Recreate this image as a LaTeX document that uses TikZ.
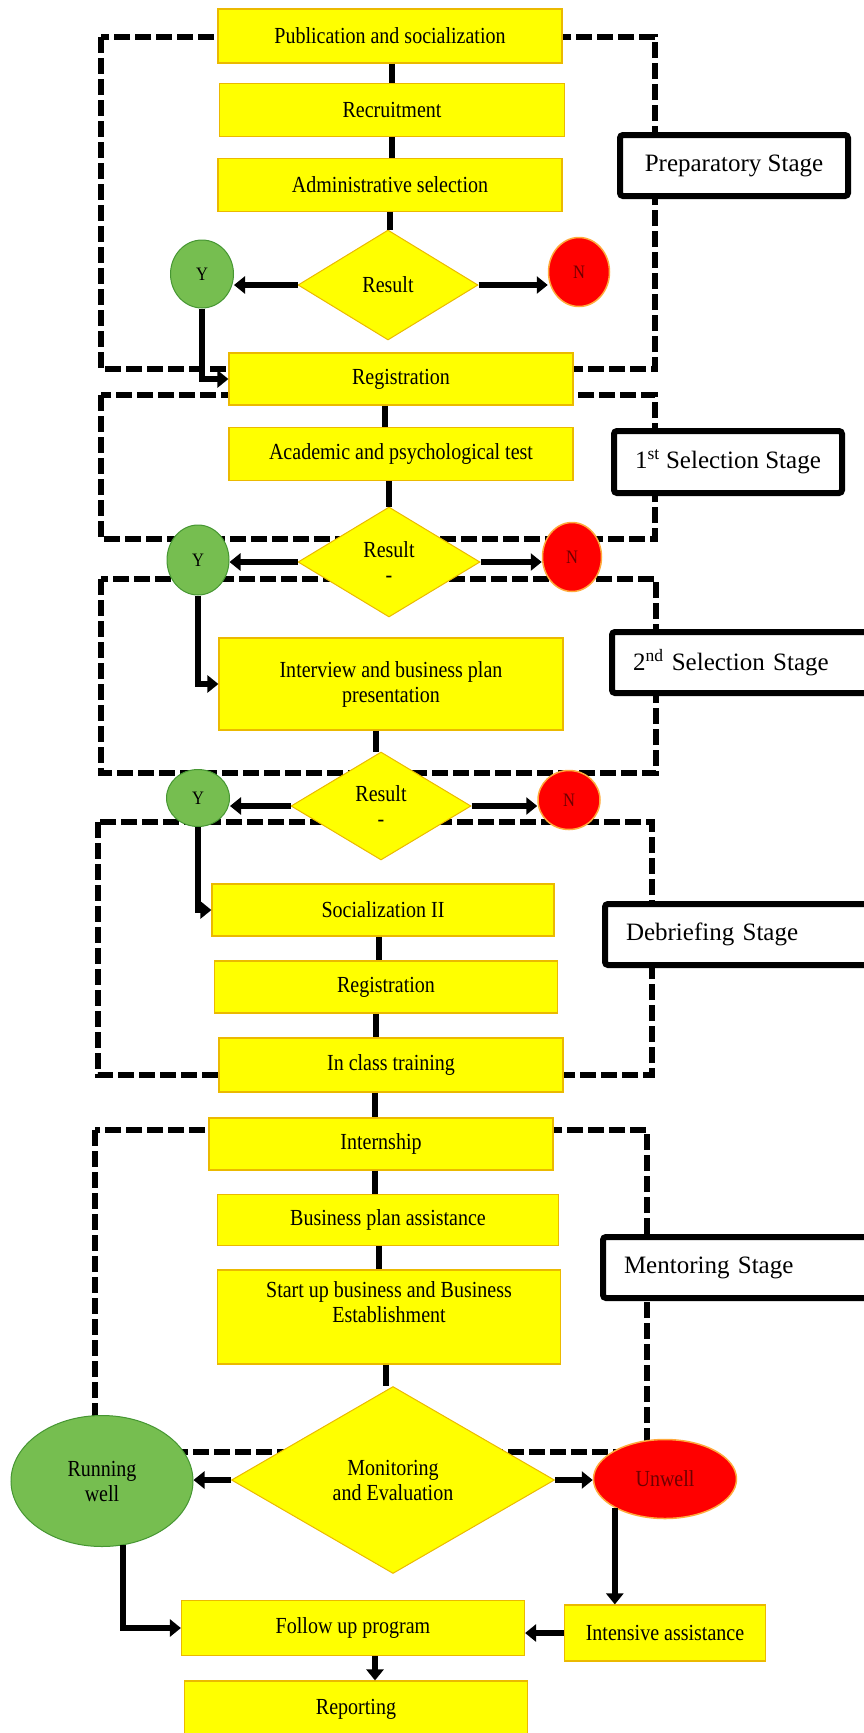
\documentclass[tikz,border=0pt]{standalone}
\usepackage{fontspec}
\setmainfont{Liberation Serif}
\newfontfamily\boxfont[FakeStretch=0.87]{Liberation Serif}
\usetikzlibrary{shapes.geometric,arrows.meta}
\definecolor{byel}{RGB}{255,255,0}
\definecolor{bedge}{RGB}{235,185,0}
\definecolor{gfill}{RGB}{118,190,80}
\definecolor{gedge}{RGB}{70,150,50}
\definecolor{rfill}{RGB}{255,0,0}
\definecolor{redge}{RGB}{255,170,60}
\definecolor{rtext}{RGB}{110,0,0}
\tikzset{
  box/.style={rectangle, draw=bedge, line width=1.2pt, fill=byel, inner sep=2pt, align=center, font=\boxfont\fontsize{23}{25}\selectfont},
  dia/.style={diamond, draw=bedge, line width=1pt, fill=byel, inner sep=0pt, align=center, font=\boxfont\fontsize{23}{25}\selectfont},
  yes/.style={ellipse, draw=gedge, line width=1pt, fill=gfill, inner sep=0pt, align=center, font=\boxfont\fontsize{19}{22}\selectfont},
  no/.style={ellipse, draw=redge, line width=1.5pt, fill=rfill, inner sep=0pt, align=center, text=rtext, font=\boxfont\fontsize{19}{22}\selectfont},
  dbox/.style={line width=6pt, dash pattern=on 16pt off 5pt},
  conn/.style={line width=6pt},
  arr/.style={line width=6pt, -{Triangle[length=11pt,width=17pt]}},
  stagec/.style={draw, line width=6pt, fill=white, rounded corners=3pt, anchor=north west, inner sep=0pt, font=\fontsize{25}{30}\selectfont},
  stagel/.style={draw, line width=6pt, fill=white, rounded corners=3pt, anchor=north west, inner xsep=21pt, inner ysep=0pt, align=left, text width=234pt, font=\fontsize{25}{30}\selectfont},
}
\begin{document}
\begin{tikzpicture}[x=1pt,y=-1pt]
\useasboundingbox (0,0) rectangle (864,1733);

% dashed stage frames
\draw[dbox] (101,37) rectangle (655,369);
\draw[dbox] (101,395) rectangle (655,539);
\draw[dbox] (101,579) rectangle (656,773);
\draw[dbox] (98,822) rectangle (652,1075);
\draw[dbox] (95,1130) rectangle (647,1452);

% nodes
\node[box, minimum width=344pt, minimum height=54pt] (pub) at (390,36) {Publication and socialization};
\node[box, minimum width=345pt, minimum height=53pt] (rec) at (392,110) {Recruitment};
\node[box, minimum width=344pt, minimum height=53pt] (adm) at (390,185) {Administrative selection};
\node[dia, minimum width=180pt, minimum height=110pt] (res1) at (388,285) {Result};
\node[yes, minimum width=63pt, minimum height=68pt] (y1) at (202,274) {Y};
\node[no, minimum width=61pt, minimum height=69pt] (n1) at (579,272) {N};
\node[box, minimum width=344pt, minimum height=52pt] (reg1) at (401,379) {Registration};
\node[box, minimum width=344pt, minimum height=53pt] (aca) at (401,454) {Academic and psychological test};
\node[dia, minimum width=182pt, minimum height=110pt] (res2) at (389,562) {Result\\-};
\node[yes, minimum width=62pt, minimum height=70pt] (y2) at (198,560) {Y};
\node[no, minimum width=59pt, minimum height=69pt] (n2) at (572,557) {N};
\node[box, minimum width=344pt, minimum height=92pt] (int) at (391,684) {Interview and business plan\\presentation};
\node[dia, minimum width=180pt, minimum height=108pt] (res3) at (381,806) {Result\\-};
\node[yes, minimum width=63pt, minimum height=57pt] (y3) at (198,798) {Y};
\node[no, minimum width=62pt, minimum height=59pt] (n3) at (569,800) {N};
\node[box, minimum width=342pt, minimum height=52pt] (soc) at (383,910) {Socialization II};
\node[box, minimum width=343pt, minimum height=52pt] (reg2) at (386,987) {Registration};
\node[box, minimum width=344pt, minimum height=54pt] (icl) at (391,1065) {In class training};
\node[box, minimum width=344pt, minimum height=52pt] (itn) at (381,1144) {Internship};
\node[box, minimum width=341pt, minimum height=51pt] (bpa) at (388,1220) {Business plan assistance};
\node[box, minimum width=343pt, minimum height=94pt, text depth=30pt] (sub) at (389,1317) {Start up business and Business\\Establishment};
\node[dia, minimum width=323pt, minimum height=187pt] (mon) at (393,1480) {Monitoring\\and Evaluation};
\node[yes, minimum width=182pt, minimum height=131pt, font=\boxfont\fontsize{23}{25}\selectfont] (rw) at (102,1481) {Running\\well};
\node[no, minimum width=143pt, minimum height=79pt, font=\boxfont\fontsize{23}{25}\selectfont] (uw) at (665,1479) {Unwell};
\node[box, minimum width=343pt, minimum height=55pt] (fu) at (353,1628) {Follow up program};
\node[box, minimum width=201pt, minimum height=56pt] (ia) at (665,1633) {Intensive assistance};
\node[box, minimum width=343pt, minimum height=56pt] (rep) at (356,1709) {Reporting};

% connectors
\draw[conn] ([xshift=2pt]pub.south) -- ([xshift=2pt]pub.south |- rec.north);
\draw[conn] (rec.south) -- (rec.south |- adm.north);
\draw[conn] (adm.south) -- (adm.south |- res1.north);
\draw[arr] (res1.west) -- (res1.west -| y1.east);
\draw[arr] (res1.east) -- (res1.east -| n1.west);
\draw[arr] (y1.south) |- (reg1.west);
\draw[conn] ([xshift=-16pt]reg1.south) -- ([xshift=-16pt]reg1.south |- aca.north);
\draw[conn] ([xshift=-12pt]aca.south) -- ([xshift=-12pt]aca.south |- res2.north);
\draw[arr] (res2.west) -- (res2.west -| y2.east);
\draw[arr] (res2.east) -- (res2.east -| n2.west);
\draw[arr] (y2.south) |- (int.west);
\draw[conn] ([xshift=-15pt]int.south) -- ([xshift=-15pt]int.south |- res3.north);
\draw[arr] (res3.west) -- (res3.west -| y3.east);
\draw[arr] (res3.east) -- (res3.east -| n3.west);
\draw[arr] (y3.south) |- (soc.west);
\draw[conn] ([xshift=-4pt]soc.south) -- ([xshift=-4pt]soc.south |- reg2.north);
\draw[conn] ([xshift=-10pt]reg2.south) -- ([xshift=-10pt]reg2.south |- icl.north);
\draw[conn] ([xshift=-16pt]icl.south) -- ([xshift=-16pt]icl.south |- itn.north);
\draw[conn] ([xshift=-6pt]itn.south) -- ([xshift=-6pt]itn.south |- bpa.north);
\draw[conn] ([xshift=-9pt]bpa.south) -- ([xshift=-9pt]bpa.south |- sub.north);
\draw[conn] ([xshift=-3pt]sub.south) -- ([xshift=-3pt]sub.south |- mon.north);
\draw[arr] (mon.west) -- (mon.west -| rw.east);
\draw[arr] (mon.east) -- (mon.east -| uw.west);
\draw[arr] (rw.-72) |- (fu.west);
\draw[arr] (uw.-150) -- (uw.-150 |- ia.north);
\draw[arr] (ia.west) -- (ia.west -| fu.east);
\draw[arr] ([xshift=22pt]fu.south) -- ([xshift=22pt]fu.south |- rep.north);

% stage labels
\node[stagec, minimum width=228pt, minimum height=61pt] (s1) at (617,132) {Preparatory Stage};
\node[stagec, minimum width=228pt, minimum height=62pt] (s2) at (611,428) {1\textsuperscript{st} Selection Stage};
\node[stagel, minimum height=61pt] (s3) at (609,629) {2\textsuperscript{nd} Selection Stage};
\node[stagel, minimum height=61pt] (s4) at (602,901) {Debriefing Stage};
\node[stagel, minimum height=61pt] (s5) at (600,1234) {Mentoring Stage};
\end{tikzpicture}
\end{document}
